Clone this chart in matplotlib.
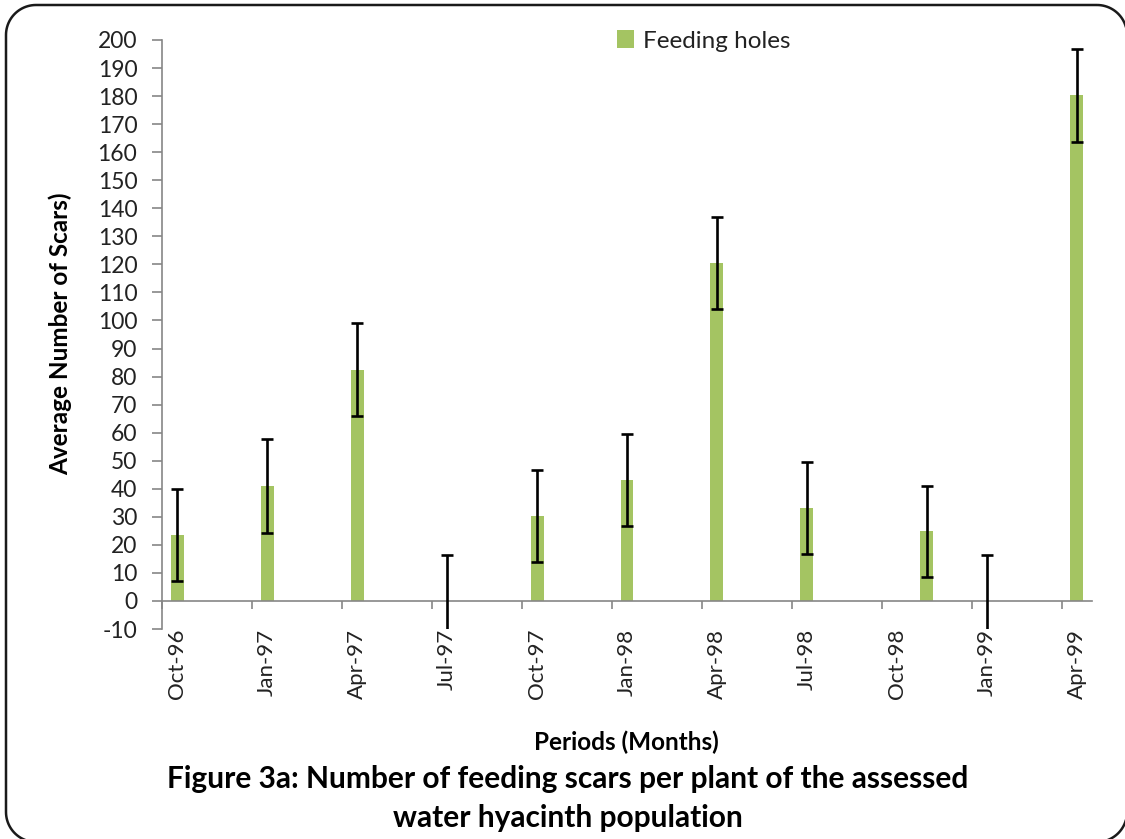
import matplotlib
matplotlib.use("Agg")
import numpy as np
import matplotlib.pyplot as plt
from matplotlib.patches import Polygon
from matplotlib.ticker import FixedLocator, NullFormatter

plt.rcParams["font.family"] = ["Lato", "DejaVu Sans"]

# Sampling periods (month-year) with mean scars per plant and error
periods = ["Oct-96", "Jan-97", "Apr-97", "Jul-97", "Oct-97", "Jan-98",
           "Apr-98", "Jul-98", "Nov-98", "Jan-99", "Apr-99"]
feeding_holes = [23.6, 41.0, 82.5, 0.0, 30.4, 43.2, 120.5, 33.2, 24.8, 0.0, 180.3]
errors = [16.4, 16.7, 16.5, 16.4, 16.4, 16.5, 16.5, 16.5, 16.3, 16.5, 16.5]

tick_labels = ["Oct-96", "Jan-97", "Apr-97", "Jul-97", "Oct-97", "Jan-98",
               "Apr-98", "Jul-98", "Oct-98", "Jan-99", "Apr-99"]
y_ticks = list(range(-10, 201, 10))

MONTHS = ["Jan", "Feb", "Mar", "Apr", "May", "Jun",
          "Jul", "Aug", "Sep", "Oct", "Nov", "Dec"]


def month_index(label):
    """Months elapsed since Oct-1996 for a 'Mon-YY' label."""
    mon, yy = label.split("-")
    year = 1900 + int(yy)
    return (year - 1996) * 12 + MONTHS.index(mon) - 9


x = [month_index(p) for p in periods]
tick_x = [month_index(t) for t in tick_labels]

W, H, DPI = 1125, 839, 100
fig = plt.figure(figsize=(W / DPI, H / DPI), dpi=DPI)
fig.patch.set_facecolor("white")

left, right = 162.3 / W, 1091.7 / W
bottom, top = 1 - 629 / H, 1 - 40 / H
ax = fig.add_axes([left, bottom, right - left, top - bottom])

green = "#A4C462"
axis_grey = "#868686"
text_col = "#222222"

ax.bar(x, feeding_holes, width=0.43, color=green, zorder=2,
       label="Feeding holes")
ax.errorbar(x, feeding_holes, yerr=errors, fmt="none", ecolor="black",
            elinewidth=1.9, capsize=4.5, capthick=1.9, zorder=3)

ax.set_xlim(tick_x[0] - 0.5, tick_x[-1] + 0.5)
ax.set_ylim(y_ticks[0], y_ticks[-1])

for s in ("top", "right"):
    ax.spines[s].set_visible(False)
ax.spines["left"].set_color(axis_grey)
ax.spines["left"].set_linewidth(1.2)
ax.spines["bottom"].set_color(axis_grey)
ax.spines["bottom"].set_linewidth(1.2)
ax.spines["bottom"].set_position(("data", 0))

ax.set_yticks(y_ticks)
ax.set_yticklabels([str(v) for v in y_ticks])
ax.tick_params(axis="y", direction="out", length=7, width=1.2,
               color=axis_grey, pad=11, labelsize=16.5, labelcolor=text_col)

# labels sit at month centres; tick marks sit on the boundaries between quarters
ax.set_xticks(tick_x)
ax.set_xticklabels(tick_labels, rotation=90)
ax.xaxis.set_minor_locator(FixedLocator([t - 0.5 for t in tick_x]))
ax.xaxis.set_minor_formatter(NullFormatter())
ax.tick_params(axis="x", which="major", length=0, pad=20,
               labelsize=16, labelcolor=text_col)
ax.tick_params(axis="x", which="minor", direction="out", length=6,
               width=1.2, color=axis_grey)

fig.legend(loc="center left", bbox_to_anchor=(605 / W, 1 - 41 / H),
           frameon=False, fontsize=17.5, handlelength=0.7, handleheight=0.7,
           handletextpad=0.35, borderpad=0, labelcolor=text_col)

fig.text(60 / W, 1 - 334 / H, "Average Number of Scars)", rotation=90,
         ha="center", va="center", fontsize=17.5, fontweight="bold",
         color="black")
fig.text(626 / W, 1 - 742 / H, "Periods (Months)", ha="center",
         va="center", fontsize=17.5, fontweight="bold", color="black")
fig.text(568 / W, 1 - 779 / H,
         "Figure 3a: Number of feeding scars per plant of the assessed",
         ha="center", va="center", fontsize=21.5, fontweight="bold",
         color="black")
fig.text(568 / W, 1 - 818 / H, "water hyacinth population", ha="center",
         va="center", fontsize=21.5, fontweight="bold", color="black")


def rounded_outline(x0, y0, x1, y1, r, n=24):
    """Rounded rectangle (pixel box, y downwards) as a dense polygon in figure fractions."""
    corners = [(x1 - r, y0 + r, -90, 0),    # top right
               (x1 - r, y1 - r, 0, 90),     # bottom right
               (x0 + r, y1 - r, 90, 180),   # bottom left
               (x0 + r, y0 + r, 180, 270)]  # top left
    pts = []
    for cx, cy, a0, a1 in corners:
        a = np.radians(np.linspace(a0, a1, n))
        px = cx + r * np.cos(a)
        py = cy + r * np.sin(a)
        pts.extend(zip(px / W, 1 - py / H))
    return np.array(pts)


# outer frame runs slightly past the right and bottom edges of the canvas
frame = Polygon(rounded_outline(6, 5, 1127, 842, 30), closed=True,
                transform=fig.transFigure, fill=False,
                edgecolor="#1a1a1a", linewidth=1.8, clip_on=False)
fig.patches.append(frame)

fig.savefig("out.png", dpi=DPI, facecolor="white")
